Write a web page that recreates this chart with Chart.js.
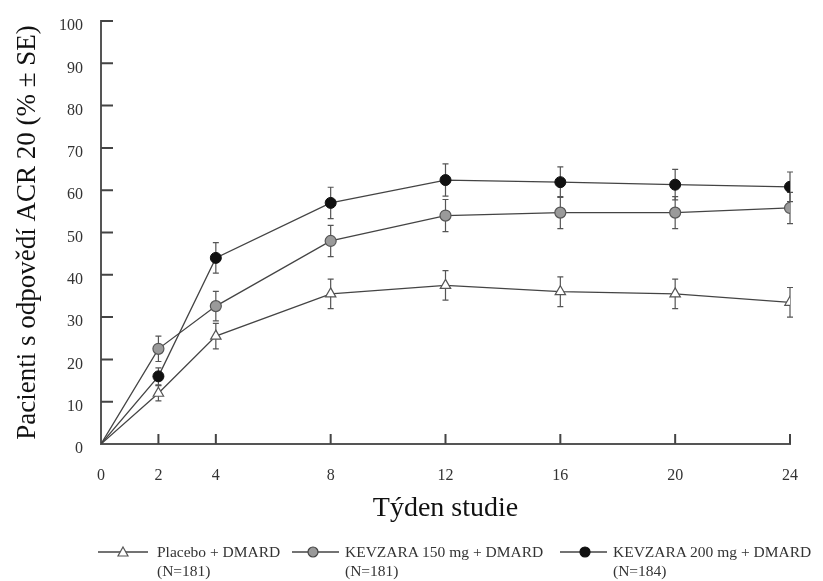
<!DOCTYPE html>
<html>
<head>
<meta charset="utf-8">
<script src="https://cdn.jsdelivr.net/npm/chart.js"></script>
<style>
  body { margin: 0; background: #fff; }
  #wrap { position: relative; width: 823px; height: 581px; }
  #myChart { position: absolute; left: 0; top: 0; }
  .leg { position: absolute; font-family: "Liberation Serif", "Times New Roman", serif; font-size: 15.5px; color: #333; line-height: 19px; white-space: nowrap; }
  .leg svg { position: absolute; left: 0; top: 3px; }
  .leg span { position: absolute; top: 0; }
</style>
</head>
<body>
<div id="wrap">
  <canvas id="myChart" width="823" height="581"></canvas>
  <div class="leg" style="left:98px; top:542px;">
    <svg width="52" height="14"><line x1="0" y1="7" x2="50" y2="7" stroke="#444" stroke-width="1.3"/><polygon points="25,2 30,11 20,11" fill="#fff" stroke="#555" stroke-width="1.2"/></svg>
    <span style="left:59px;">Placebo + DMARD<br>(N=181)</span>
  </div>
  <div class="leg" style="left:292px; top:542px;">
    <svg width="52" height="14"><line x1="0" y1="7" x2="47" y2="7" stroke="#444" stroke-width="1.3"/><circle cx="21" cy="7" r="5" fill="#999" stroke="#444" stroke-width="1.2"/></svg>
    <span style="left:53px;">KEVZARA 150 mg + DMARD<br>(N=181)</span>
  </div>
  <div class="leg" style="left:560px; top:542px;">
    <svg width="52" height="14"><line x1="0" y1="7" x2="47" y2="7" stroke="#444" stroke-width="1.3"/><circle cx="25" cy="7" r="5" fill="#111" stroke="#111" stroke-width="1.2"/></svg>
    <span style="left:53px;">KEVZARA 200 mg + DMARD<br>(N=184)</span>
  </div>
</div>

<script>
// week values on the x axis
const weeks = [0, 2, 4, 8, 12, 16, 20, 24]
const weekTicks = [0, 2, 4, 8, 12, 16, 20, 24]

// % ACR 20 responders
const placebo = [0, 12, 25.5, 35.5, 37.5, 36, 35.5, 33.5]
const placeboSE = [0, 1.8, 3, 3.5, 3.5, 3.5, 3.5, 3.5]

const kevzara150 = [0, 22.5, 32.6, 48, 54, 54.7, 54.7, 55.8]
const kevzara150SE = [0, 3, 3.5, 3.7, 3.8, 3.8, 3.8, 3.7]

const kevzara200 = [0, 16, 44, 57, 62.4, 61.9, 61.3, 60.8]
const kevzara200SE = [0, 2, 3.6, 3.7, 3.8, 3.6, 3.6, 3.5]

const serif = '"Liberation Serif", "Times New Roman", serif'

function toPoints(values) {
    return weeks.map((w, i) => ({ x: w, y: values[i] }))
}

// no marker at the origin
const markerSize = (r) => (ctx) => ctx.dataIndex === 0 ? 0 : r

// draws the ± SE whiskers behind the markers
const errorBars = {
    id: 'errorBars',
    beforeDatasetsDraw(chart) {
        const ctx = chart.ctx
        const xs = chart.scales.x
        const ys = chart.scales.y
        ctx.save()
        ctx.strokeStyle = '#555'
        ctx.lineWidth = 1.2
        chart.data.datasets.forEach((ds) => {
            ds.se.forEach((se, i) => {
                if (!se) return
                const px = xs.getPixelForValue(weeks[i])
                const top = ys.getPixelForValue(ds.data[i].y + se)
                const bot = ys.getPixelForValue(ds.data[i].y - se)
                ctx.beginPath()
                ctx.moveTo(px, top); ctx.lineTo(px, bot)
                ctx.moveTo(px - 3, top); ctx.lineTo(px + 3, top)
                ctx.moveTo(px - 3, bot); ctx.lineTo(px + 3, bot)
                ctx.stroke()
            })
        })
        ctx.restore()
    }
}

// tick marks pointing into the plot area
const innerTicks = {
    id: 'innerTicks',
    afterDraw(chart) {
        const ctx = chart.ctx
        const xs = chart.scales.x
        const ys = chart.scales.y
        const area = chart.chartArea
        ctx.save()
        ctx.strokeStyle = '#444'
        ctx.lineWidth = 2
        ctx.beginPath()
        ys.ticks.forEach((t) => {
            if (t.value === 0) return
            const py = ys.getPixelForValue(t.value)
            ctx.moveTo(area.left, py)
            ctx.lineTo(area.left + 12, py)
        })
        xs.ticks.forEach((t) => {
            if (t.value === 0) return
            const px = xs.getPixelForValue(t.value)
            ctx.moveTo(px, area.bottom)
            ctx.lineTo(px, area.bottom - 10)
        })
        ctx.stroke()
        ctx.restore()
    }
}

const data = {
    datasets: [
        {
            label: 'Placebo + DMARD (N=181)',
            data: toPoints(placebo),
            se: placeboSE,
            borderColor: '#444',
            borderWidth: 1.3,
            pointStyle: 'triangle',
            pointRadius: markerSize(6),
            pointBackgroundColor: '#fff',
            pointBorderColor: '#555',
            pointBorderWidth: 1.2
        },
        {
            label: 'KEVZARA 150 mg + DMARD (N=181)',
            data: toPoints(kevzara150),
            se: kevzara150SE,
            borderColor: '#444',
            borderWidth: 1.3,
            pointStyle: 'circle',
            pointRadius: markerSize(5.5),
            pointBackgroundColor: '#9a9a9a',
            pointBorderColor: '#555',
            pointBorderWidth: 1.2
        },
        {
            label: 'KEVZARA 200 mg + DMARD (N=184)',
            data: toPoints(kevzara200),
            se: kevzara200SE,
            borderColor: '#444',
            borderWidth: 1.3,
            pointStyle: 'circle',
            pointRadius: markerSize(5.5),
            pointBackgroundColor: '#111',
            pointBorderColor: '#111',
            pointBorderWidth: 1
        }
    ]
}

const config = {
    type: 'line',
    data: data,
    options: {
        responsive: false,
        animation: false,
        layout: { padding: { left: 0, right: 33, top: 21, bottom: 56 } },
        plugins: {
            legend: { display: false },
            tooltip: { enabled: false }
        },
        elements: { line: { tension: 0 } },
        scales: {
            x: {
                type: 'linear',
                min: 0,
                max: 24,
                afterBuildTicks: (scale) => {
                    scale.ticks = weekTicks.map((v) => ({ value: v }))
                },
                afterFit: (scale) => { scale.height = 81 },
                grid: { display: false },
                border: { display: true, color: '#555', width: 2 },
                ticks: {
                    padding: 14,
                    color: '#333',
                    font: { family: serif, size: 16 }
                },
                title: {
                    display: true,
                    text: 'Týden studie',
                    color: '#111',
                    font: { family: serif, size: 28 },
                    padding: { top: 0, bottom: 0 }
                }
            },
            y: {
                min: 0,
                max: 100,
                afterFit: (scale) => { scale.width = 101 },
                grid: { display: false },
                border: { display: true, color: '#555', width: 2 },
                ticks: {
                    stepSize: 10,
                    padding: 10,
                    labelOffset: 5,
                    color: '#333',
                    font: { family: serif, size: 16 }
                },
                title: {
                    display: true,
                    text: 'Pacienti s odpovědí ACR 20 (% ± SE)',
                    color: '#111',
                    font: { family: serif, size: 27 },
                    padding: { top: 12, bottom: 0 }
                }
            }
        }
    },
    plugins: [errorBars, innerTicks]
}

let chartCanvas = new Chart(document.querySelector('#myChart'), config)
</script>
</body>
</html>
